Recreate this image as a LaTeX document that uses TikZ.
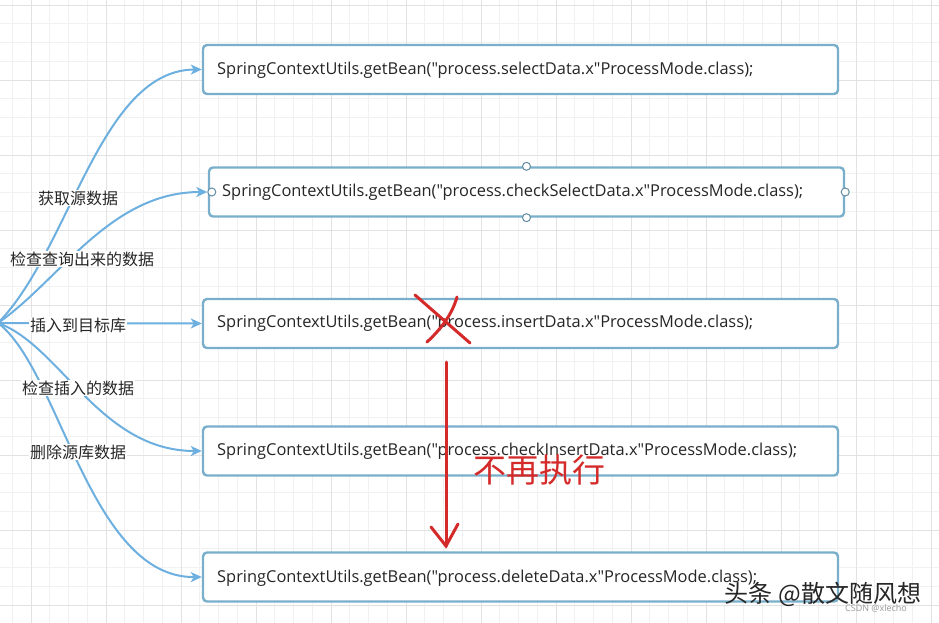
\documentclass[tikz,border=0pt]{standalone}
\usepackage{fontspec}
\setmainfont{Open Sans}[Ligatures=TeXOff]
\newfontfamily\cjk{Noto Sans CJK SC}
\usetikzlibrary{arrows.meta,positioning}
\definecolor{boxline}{HTML}{7AAFCB}
\definecolor{flowline}{HTML}{6DB0E0}
\definecolor{inkred}{HTML}{D42A2A}
\definecolor{gridminor}{HTML}{F1F1F1}
\definecolor{gridmajor}{HTML}{E2E2E2}
\tikzset{
  beanbox/.style={draw=boxline,line width=2.4pt,rounded corners=4pt,fill=white,
    minimum width=635pt,minimum height=49pt,inner sep=0pt},
  beantext/.style={anchor=west,font=\fontsize{16.4}{18}\selectfont,text=black!85,inner sep=0pt},
  flow/.style={draw=flowline,line width=2pt,-{Stealth[length=11pt,width=10pt,inset=3pt]}},
  steplabel/.style={fill=white,inner sep=1pt,font=\cjk\fontsize{16}{18}\selectfont,text=black!85},
  pin/.style={circle,draw=boxline!80!black,fill=white,line width=1pt,minimum size=8pt,inner sep=0pt},
  redink/.style={draw=inkred,line width=3pt,line cap=round}
}
\begin{document}
\begin{tikzpicture}[x=1pt,y=-1pt]
\useasboundingbox (0,0) rectangle (939,623);
\fill[white] (0,0) rectangle (939,623);
% grid
\foreach \i in {0,...,49} {\draw[gridminor,line width=0.8pt] ({12.25+18.75*\i},0) -- ({12.25+18.75*\i},623);}
\foreach \j in {0,...,33} {\draw[gridminor,line width=0.8pt] (0,{5+18.75*\j}) -- (939,{5+18.75*\j});}
\foreach \i in {0,...,12} {\draw[gridmajor,line width=0.8pt] ({31+75*\i},0) -- ({31+75*\i},623);}
\foreach \j in {0,...,8} {\draw[gridmajor,line width=0.8pt] (0,{5+75*\j}) -- (939,{5+75*\j});}

% boxes
\node[beanbox] (select) at (520.5,69.5) {};
\node[beanbox] (checksel) at (526.5,192) {};
\node[beanbox] (insert) at (520.5,323.5) {};
\node[beanbox] (checkins) at (520.5,451) {};
\node[beanbox] (delete) at (520.5,577) {};
\node[beantext] at (217,70) {SpringContextUtils.getBean("process.selectData.x"ProcessMode.class);};
\node[beantext] at (222,192) {SpringContextUtils.getBean("process.checkSelectData.x"ProcessMode.class);};
\node[beantext] at (217,323) {SpringContextUtils.getBean("process.insertData.x"ProcessMode.class);};
\node[beantext] at (217,451) {SpringContextUtils.getBean("process.checkInsertData.x"ProcessMode.class);};
\node[beantext] at (217,578) {SpringContextUtils.getBean("process.deleteData.x"ProcessMode.class);};

% connection points of the selected box
\node[pin] (pn) at (checksel.north) {};
\node[pin] (ps) at (checksel.south) {};
\node[pin] (pe) at (checksel.east) {};
\node[pin] (pw) at ([xshift=4pt]checksel.west) {};

% flows
\coordinate (src) at (-2,323);
\draw[flow] (src) .. controls (70,250) and (100,70) .. (select.west);
\draw[flow] (src) .. controls (60,280) and (110,192) .. (pw.west);
\draw[flow] (src) -- (insert.west);
\draw[flow] (src) .. controls (60,345) and (100,451) .. (checkins.west);
\draw[flow] (src) .. controls (60,370) and (90,578) .. (delete.west);
\node[steplabel] (l1) at (78,198) {获取源数据};
\node[steplabel] (l2) at (82,259) {检查查询出来的数据};
\node[steplabel] (l3) at (78,325) {插入到目标库};
\node[steplabel] (l4) at (78,388) {检查插入的数据};
\node[steplabel] (l5) at (78,452) {删除源库数据};

% red marks
\draw[redink] (415,295) -- (470,343);
\draw[redink] (457,297) .. controls (452,315) and (440,330) .. (427,342);
\coordinate (redtop) at (446,362);
\coordinate (redtip) at (446,546);
\draw[redink] (redtop) -- (redtip);
\draw[redink] (431,527) -- (redtip) -- (458,524);
\node[font=\cjk\fontsize{33}{35}\selectfont,text=inkred] (skip) at (539,470) {不再执行};

% watermarks
\node[font=\cjk\fontsize{24}{26}\selectfont,text=black!85,inner sep=0pt] (wm) at (823,594) {头条 @散文随风想};
\node[font=\fontsize{9}{10}\selectfont,text=black!40,inner sep=0pt] (csdn) at (876,608) {CSDN @xlecho};
\end{tikzpicture}
\end{document}
